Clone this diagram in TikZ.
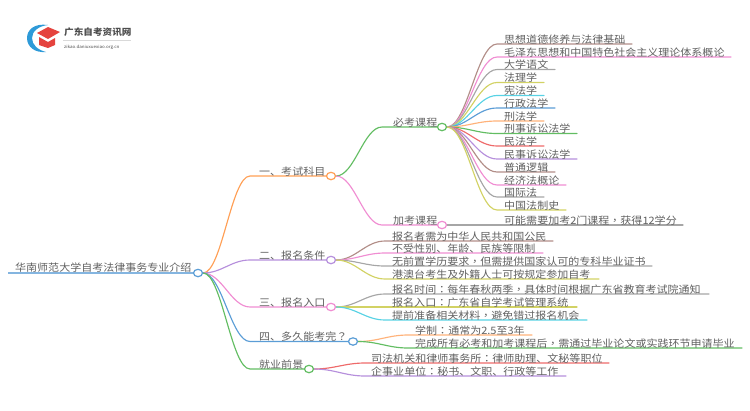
\documentclass[tikz,border=0pt]{standalone}
\usepackage{fontspec}
\usetikzlibrary{calc,shapes.geometric}
\setmainfont[FakeStretch=1.08]{Noto Sans CJK SC}
\newfontfamily\pctfont[FakeStretch=1.08]{Noto Sans CJK TC}
\newcommand{\pc}[1]{{\pctfont #1}}
\newcommand{\fsz}{\fontsize{10.2}{12}\selectfont}
\definecolor{cOrange}{HTML}{FF9F55}
\definecolor{cPurple}{HTML}{B68FDC}
\definecolor{cPink}{HTML}{F08DD2}
\definecolor{cBlue}{HTML}{5B9DD6}
\definecolor{cGreen}{HTML}{62BD62}
\definecolor{cBrown}{HTML}{B28E88}
\definecolor{cGray}{HTML}{A6A6A6}
\definecolor{cOlive}{HTML}{D2D264}
\definecolor{cCyan}{HTML}{58D2E4}
\definecolor{cAmber}{HTML}{FFB27A}
\definecolor{cRed}{HTML}{EE6A6A}
\definecolor{cText}{HTML}{606060}
\definecolor{cLogoBlue}{HTML}{2E9AD8}
\definecolor{cLogoRed}{HTML}{E5433E}
\pgfdeclarelayer{bg}
\pgfsetlayers{bg,main}
\tikzset{
  label/.style={font=\fsz,text=cText,inner sep=0pt,anchor=base west},
  hub/.style={ellipse,draw=#1,fill=white,line width=1.2pt,minimum width=9pt,minimum height=7.4pt,inner sep=0pt},
  conn/.style={draw=#1,line width=1.15pt,line cap=round},
  rootline/.style={draw=#1,line width=2.2pt}
}
% \branch{parent}{name}{colour}{y}{curve end x}{line end x}{text x}{text}
\newcommand{\branch}[8]{%
  \coordinate (#2s) at (#5,#4);
  \coordinate (#2e) at (#6,#4);
  \node[label] (#2) at (#7,#4-1) {#8};
  \begin{pgfonlayer}{bg}
  \draw[conn=#3] let \p1=(#1.east),\p2=(#2s),\n1={(\x2-\x1)*0.4} in
     (\p1) .. controls ($(\p1)+(\n1,0)$) and ($(\p2)-(\n1,0)$) .. (\p2) -- (#2e);
  \end{pgfonlayer}
}
\begin{document}
\begin{tikzpicture}[x=1pt,y=-1pt]
\useasboundingbox (0,0) rectangle (750,410);
% logo
\fill[cLogoBlue] (48,25) .. controls (34,23) and (27,30) .. (27,38) .. controls (27,47) and (35,53) .. (46,52) .. controls (38,50) and (32,45) .. (32,38) .. controls (32,31) and (39,26) .. (48,25) -- cycle;
\fill[cLogoRed] (48,27) -- (60,32) -- (48,39) -- (37,33) -- cycle;
\fill[cLogoRed] (39,37) -- (48,42) -- (55,38) -- (55,45) -- (48,48) -- (39,45) -- cycle;
\node[inner sep=0pt,anchor=base west,font=\fontsize{8.9}{11}\selectfont\bfseries,text=black!70] (logotext) at (64,35) {广东自考资讯网};
\coordinate (logoa) at (63,40);
\coordinate (logob) at (131,40);
\draw[black!15,line width=.5pt] (logoa) -- (logob);
\node[inner sep=0pt,anchor=base west,font=\fontsize{4.2}{6}\selectfont,text=black!70] (logourl) at (64,48) {zikao.daniuxuexiao.org.cn};
% hubs
\coordinate (rootstart) at (8,273);
\node[hub=cBlue] (root) at (198,273) {};
\node[hub=cOrange] (h1) at (331,176) {};
\node[hub=cPurple] (h2) at (331,260) {};
\node[hub=cPink] (h3) at (331,307) {};
\node[hub=cBlue] (h4) at (353,341.5) {};
\node[hub=cGreen] (h5) at (309,369) {};
\node[hub=cGreen] (s1) at (442,127) {};
\node[hub=cPink] (s2) at (442,225) {};
% root
\draw[rootline=cBlue!75!white] (rootstart) -- (root.west);
\node[label] (roottext) at (15,271.5) {华南师范大学自考法律事务专业介绍};
% level 1
\branch{root}{a1}{cOrange}{176}{250}{326}{259}{一、考试科目}
\branch{root}{a2}{cPurple}{260}{250}{326}{259}{二、报名条件}
\branch{root}{a3}{cPink}{307}{250}{326}{259}{三、报名入口}
\branch{root}{a4}{cBlue}{341.5}{250}{348}{259}{四、多久能考完\pc{？}}
\branch{root}{a5}{cGreen}{369}{250}{304}{259}{就业前景}
% level 2
\branch{h1}{b1}{cGreen}{127}{382}{437}{393}{必考课程}
\branch{h1}{b2}{cPink}{225}{382}{437}{393}{加考课程}
% required courses
\branch{s1}{c1}{cBrown}{44}{497}{632}{504}{思想道德修养与法律基础}
\branch{s1}{c2}{cPink}{57}{497}{731}{504}{毛泽东思想和中国特色社会主义理论体系概论}
\branch{s1}{c3}{cGray}{69.5}{497}{555}{504}{大学语文}
\branch{s1}{c4}{cOlive}{82.5}{497}{544}{504}{法理学}
\branch{s1}{c5}{cCyan}{95.5}{497}{544}{504}{宪法学}
\branch{s1}{c6}{cBlue}{108}{497}{555}{504}{行政法学}
\branch{s1}{c7}{cAmber}{121}{497}{544}{504}{刑法学}
\branch{s1}{c8}{cGreen}{133.5}{497}{577}{504}{刑事诉讼法学}
\branch{s1}{c9}{cRed}{146}{497}{544}{504}{民法学}
\branch{s1}{c10}{cPurple}{159}{497}{577}{504}{民事诉讼法学}
\branch{s1}{c11}{cBrown}{172}{497}{555}{504}{普通逻辑}
\branch{s1}{c12}{cPink}{185}{497}{566}{504}{经济法概论}
\branch{s1}{c13}{cGray}{197}{497}{544}{504}{国际法}
\branch{s1}{c14}{cOlive}{210}{497}{566}{504}{中国法制史}
\branch{s2}{d1}{cGray}{225}{497}{683}{504}{可能需要加考2门课程\pc{，}获得12学分}
% conditions
\branch{h2}{e1}{cBrown}{241}{385}{553}{392}{报名者需为中华人民共和国公民}
\branch{h2}{e2}{cPink}{253}{385}{543}{392}{不受性别、年龄、民族等限制}
\branch{h2}{e3}{cGray}{266}{385}{652}{392}{无前置学历要求\pc{，}但需提供国家认可的专科毕业证书}
\branch{h2}{e4}{cOlive}{279}{385}{599}{392}{港澳台考生及外籍人士可按规定参加自考}
% entry
\branch{h3}{f1}{cGray}{294}{385}{709}{392}{报名时间\pc{：}每年春秋两季\pc{，}具体时间根据广东省教育考试院通知}
\branch{h3}{f2}{cOlive}{307}{385}{577}{392}{报名入口\pc{：}广东省自学考试管理系统}
\branch{h3}{f3}{cCyan}{320}{385}{587}{392}{提前准备相关材料\pc{，}避免错过报名机会}
% duration
\branch{h4}{g1}{cAmber}{335}{408}{532}{415}{学制\pc{：}通常为2.5至3年}
\branch{h4}{g2}{cGreen}{348}{408}{742}{415}{完成所有必考和加考课程后\pc{，}需通过毕业论文或实践环节申请毕业}
% prospects
\branch{h5}{k1}{cRed}{363}{365}{609}{371}{司法机关和律师事务所\pc{：}律师助理、文秘等职位}
\branch{h5}{k2}{cPurple}{376}{365}{566}{371}{企事业单位\pc{：}秘书、文职、行政等工作}
\end{tikzpicture}
\end{document}
